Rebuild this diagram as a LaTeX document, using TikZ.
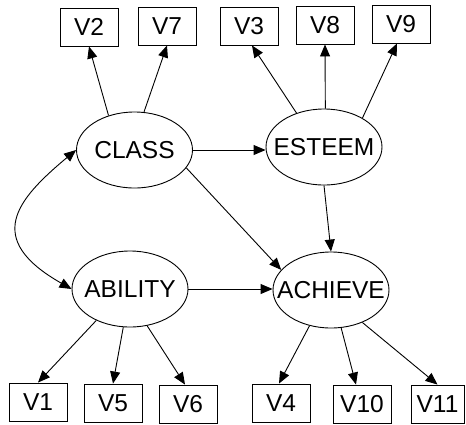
\documentclass[tikz,border=0pt]{standalone}
\usepackage{fontspec}
\setmainfont{Liberation Sans}
\usetikzlibrary{arrows.meta,shapes.geometric}
\newcommand\zw[1]{\makebox[0pt]{#1}}
\begin{document}
\begin{tikzpicture}[x=1pt,y=-1pt,
  obs/.style={draw,line width=0.9pt,minimum width=58pt,minimum height=38pt,inner sep=0pt,font=\fontsize{24.5}{29}\selectfont},
  lat/.style={draw,ellipse,line width=0.9pt,minimum width=116pt,minimum height=76pt,inner sep=0pt,font=\fontsize{24.5}{29}\selectfont},
  arr/.style={line width=0.9pt,-{Triangle[length=12pt,width=10pt]}},
  darr/.style={line width=0.9pt,{Triangle[length=12pt,width=10pt]}-{Triangle[length=12pt,width=10pt]}}
]
\useasboundingbox (0,0) rectangle (466,424);
% observed top
\node[obs] (v2) at (89,27) {V2};
\node[obs] (v7) at (167,26) {V7};
\node[obs] (v3) at (249,26) {V3};
\node[obs] (v8) at (325,25) {V8};
\node[obs] (v9) at (401,24) {V9};
% latent
\node[lat] (class) at (134.5,150) {\zw{CLASS}};
\node[lat] (esteem) at (324,147) {\zw{ESTEEM}};
\node[lat] (ability) at (130,289) {\zw{ABILITY}};
\node[lat] (achieve) at (331,290) {\zw{ACHIEVE}};
% observed bottom
\node[obs] (v1) at (38,402) {V1};
\node[obs] (v5) at (113,403) {V5};
\node[obs] (v6) at (188,404) {V6};
\node[obs] (v4) at (281,403) {V4};
\node[obs] (v10) at (362,404) {V10};
\node[obs,minimum width=53pt] (v11) at (437.5,404) {V11};
% loadings
\draw[arr] (class.127) -- (v2.south);
\draw[arr] (class.76) -- (v7.south);
\draw[arr] (esteem.129) -- ([xshift=3pt]v3.south);
\draw[arr] (esteem.88) -- (v8.south);
\draw[arr] (esteem.37) -- ([xshift=-4pt]v9.south);
\draw[arr] (ability.223) -- (v1.north);
\draw[arr] (ability.260) -- (v5.north);
\draw[arr] (ability.295) -- ([xshift=-3pt]v6.north);
\draw[arr] (achieve.239) -- ([xshift=-2pt]v4.north);
\draw[arr] (achieve.285) -- ([xshift=-6pt]v10.north);
\draw[arr] (achieve.314) -- (v11.north);
% structural
\draw[arr] (class.east) -- (class.east -| esteem.west);
\draw[arr] (class.-19) -- (achieve.158);
\draw[arr] (esteem.south) -- (achieve.north);
\draw[arr] (ability.east) -- (ability.east -| achieve.west);
\draw[darr] (class.west) .. controls +(-60pt,-50pt) and +(-88pt,50pt) .. (ability.west);
\end{tikzpicture}
\end{document}
